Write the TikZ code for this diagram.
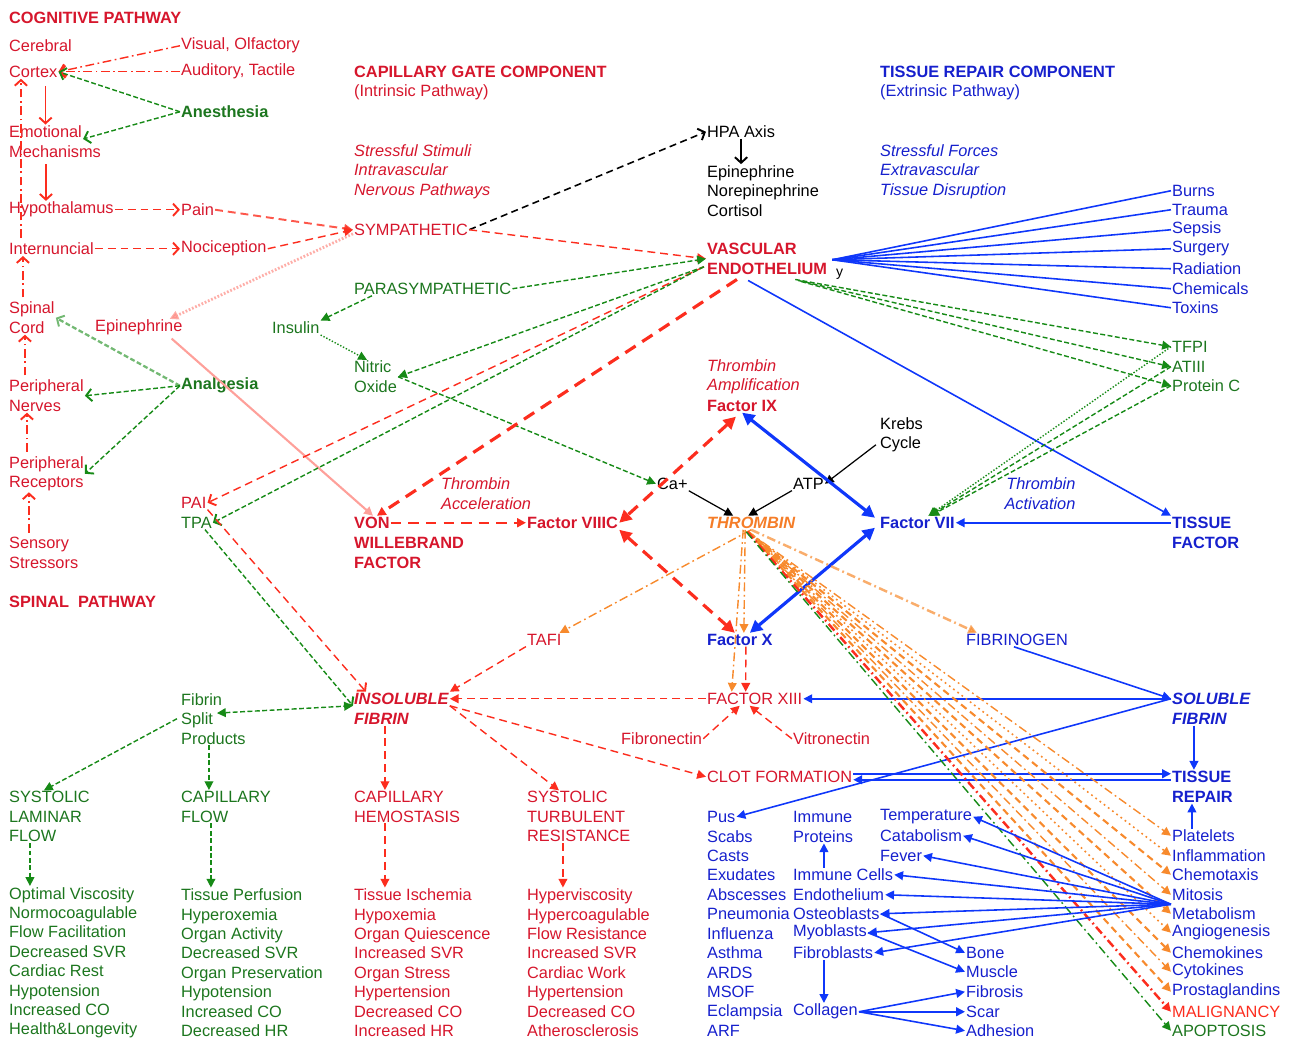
\documentclass[tikz,border=0pt]{standalone}
\usepackage{fontspec}
\setmainfont{Liberation Sans}
\usetikzlibrary{positioning}
\usetikzlibrary{arrows.meta}
\usetikzlibrary{calc}

\definecolor{txtred}{RGB}{214,22,44}
\definecolor{arred}{RGB}{252,45,30}
\definecolor{txtgreen}{RGB}{28,118,30}
\definecolor{argreen}{RGB}{22,138,22}
\definecolor{txtblue}{RGB}{22,32,205}
\definecolor{arblue}{RGB}{15,55,250}
\definecolor{txtorange}{RGB}{245,125,40}
\definecolor{arorange}{RGB}{247,138,45}

\newcommand{\figfont}{\fontsize{9.3}{11.05}\selectfont}

\tikzset{
  lbl/.style={anchor=west, inner sep=0.5pt, align=left, font=\figfont, xshift=-0.6pt, yshift=-1pt},
  rlbl/.style={lbl, text=txtred},
  glbl/.style={lbl, text=txtgreen},
  blbl/.style={lbl, text=txtblue},
  klbl/.style={lbl, text=black},
  olbl/.style={lbl, text=txtorange},
  bdl/.style={font=\figfont\bfseries},
  itl/.style={font=\figfont\itshape},
  bil/.style={font=\figfont\bfseries\itshape},
  barb/.style={-{Straight Barb[length=3.2pt,width=7pt,line width=1.1pt]}},
  tri/.style={-{Triangle[length=5pt,width=5pt]}},
  tritwo/.style={{Triangle[length=5pt,width=5pt]}-{Triangle[length=5pt,width=5pt]}},
  bigtwo/.style={{Triangle[length=7pt,width=7pt]}-{Triangle[length=7pt,width=7pt]}},
  rdsh/.style={draw=arred, line width=0.8pt, dash pattern=on 4.5pt off 2.8pt},
  rdd/.style={draw=arred, line width=0.8pt, dash pattern=on 5pt off 2pt on 1pt off 2pt},
  rsol/.style={draw=arred, line width=0.9pt},
  rthick/.style={draw=arred, line width=1.8pt, dash pattern=on 7pt off 4.5pt},
  gdsh/.style={draw=argreen, line width=0.8pt, dash pattern=on 2.8pt off 1.4pt},
  gdot/.style={draw=argreen, line width=0.8pt, dash pattern=on 0.8pt off 1pt},
  gdd/.style={draw=argreen, line width=0.8pt, dash pattern=on 5pt off 2pt on 1pt off 2pt},
  kdsh/.style={draw=black, line width=0.9pt, dash pattern=on 4pt off 2.5pt},
  kln/.style={draw=black, line width=0.7pt},
  bln/.style={draw=arblue, line width=0.9pt},
  bthick/.style={draw=arblue, line width=1.8pt},
  odd/.style={draw=arorange, line width=0.8pt, dash pattern=on 5pt off 2pt on 1pt off 2pt},
  odash/.style={draw=arorange, line width=1.2pt, dash pattern=on 4pt off 2.5pt},
  odot/.style={draw=arorange, line width=0.9pt, dash pattern=on 1pt off 2pt},
}

\begin{document}
\begin{tikzpicture}[x=0.02cm, y=-0.02cm]
\useasboundingbox (0,0) rectangle (1289,1043);

% nodes, cognitive and spinal side
{
\node[rlbl,bdl] (cogpath) at (9,16) {COGNITIVE PATHWAY};
\node[rlbl] (cerebral) at (9,44) {Cerebral};
\node[rlbl] (cortex) at (9,70) {Cortex};
\node[rlbl] (emot) at (9,130) {Emotional};
\node[rlbl] (mech) at (9,150) {Mechanisms};
\node[rlbl] (hypo) at (9,208) {Hypothalamus};
\node[rlbl] (intern) at (9,247) {Internuncial};
\node[rlbl] (spinal) at (9,316) {Spinal\\Cord};
\node[rlbl] (pnerve) at (9,394) {Peripheral\\Nerves};
\node[rlbl] (precep) at (9,472) {Peripheral\\Receptors};
\node[rlbl] (sensor) at (9,551) {Sensory\\Stressors};
\node[rlbl,bdl] (spinpath) at (9,600) {SPINAL\ \ PATHWAY};

\node[rlbl] (visual) at (181,44) {Visual, Olfactory};
\node[rlbl] (audit) at (181,70) {Auditory, Tactile};
\node[glbl,bdl] (anest) at (181,110) {Anesthesia};
\node[rlbl] (pain) at (181,208) {Pain};
\node[rlbl] (nocic) at (181,247) {Nociception};
\node[rlbl] (epi) at (95,326) {Epinephrine};
\node[glbl,bdl] (analg) at (181,384) {Analgesia};
\node[rlbl] (pai) at (181,501) {PAI};
\node[glbl] (tpa) at (181,521) {TPA};
\node[glbl] (fsp) at (181,717) {Fibrin\\Split\\Products};
\node[glbl] (slf) at (9,815) {SYSTOLIC\\LAMINAR\\FLOW};
\node[glbl] (capf) at (181,805) {CAPILLARY\\FLOW};
\node[glbl] (glist) at (9,961) {Optimal Viscosity\\Normocoagulable\\Flow Facilitation\\Decreased SVR\\Cardiac Rest\\Hypotension\\Increased CO\\Health\&Longevity};
\node[glbl] (plist) at (181,961) {Tissue Perfusion\\Hyperoxemia\\Organ Activity\\Decreased SVR\\Organ Preservation\\Hypotension\\Increased CO\\Decreased HR};
}

% nodes, capillary gate
{
\node[rlbl,bdl] (gatehd) at (354,70) {CAPILLARY GATE COMPONENT};
\node[rlbl] (intrin) at (354,91) {(Intrinsic Pathway)};
\node[rlbl,itl] (stimuli) at (354,170) {Stressful Stimuli\\Intravascular\\Nervous Pathways};
\node[rlbl] (symp) at (354,228) {SYMPATHETIC};
\node[glbl] (para) at (354,287) {PARASYMPATHETIC};
\node[glbl] (insulin) at (272,326) {Insulin};
\node[glbl] (nitric) at (354,375) {Nitric\\Oxide};
\node[rlbl,bdl] (von) at (354,521) {VON};
\node[rlbl,bdl] (vwf) at (354,551) {WILLEBRAND\\FACTOR};
\node[rlbl,itl] (taccel) at (441,492) {Thrombin\\Acceleration};
\node[rlbl,bdl] (f8) at (527,521) {Factor VIIIC};
\node[rlbl] (tafi) at (527,638) {TAFI};
\node[rlbl,bil] (insol) at (354,697) {INSOLUBLE};
\node[rlbl,bil] (insolf) at (354,717) {FIBRIN};
\node[rlbl] (caphem) at (354,805) {CAPILLARY\\HEMOSTASIS};
\node[rlbl] (sysres) at (527,815) {SYSTOLIC\\TURBULENT\\RESISTANCE};
\node[rlbl] (hlist) at (354,961) {Tissue Ischemia\\Hypoxemia\\Organ Quiescence\\Increased SVR\\Organ Stress\\Hypertension\\Decreased CO\\Increased HR};
\node[rlbl] (tlist) at (527,961) {Hyperviscosity\\Hypercoagulable\\Flow Resistance\\Increased SVR\\Cardiac Work\\Hypertension\\Decreased CO\\Atherosclerosis};
}

% nodes, centre
{
\node[klbl] (hpa) at (707,130) {HPA Axis};
\node[klbl] (hormone) at (707,189) {Epinephrine\\Norepinephrine\\Cortisol};
\node[rlbl,bdl] (endo) at (707,257) {VASCULAR\\ENDOTHELIUM};
\node[klbl,font=\fontsize{8}{9}\selectfont] (ystray) at (836,272) {y};
\node[rlbl,itl] (tampl) at (707,375) {Thrombin\\Amplification};
\node[rlbl,bdl] (f9) at (707,404) {Factor IX};
\node[klbl] (ca) at (657,482) {Ca+};
\node[klbl] (atp) at (793,482) {ATP};
\node[klbl] (krebs) at (880,433) {Krebs\\Cycle};
\node[olbl,bil] (thromb) at (707,521) {THROMBIN};
\node[blbl,bdl] (f10) at (707,638) {Factor X};
\node[rlbl] (f13) at (707,697) {FACTOR XIII};
\node[rlbl] (fibnec) at (621,737) {Fibronectin};
\node[rlbl] (vitnec) at (793,737) {Vitronectin};
\node[rlbl] (clot) at (707,775) {CLOT FORMATION};
\node[blbl] (pus) at (707,815) {Pus};
\node[blbl] (dlist) at (707,931.5) {Scabs\\Casts\\Exudates\\Abscesses\\Pneumonia\\Influenza\\Asthma\\ARDS\\MSOF\\Eclampsia\\ARF};
\node[blbl] (iprot) at (793,825) {Immune\\Proteins};
\node[blbl] (icells) at (793,873) {Immune Cells};
\node[blbl] (endoth) at (793,893) {Endothelium};
\node[blbl] (osteo) at (793,912) {Osteoblasts};
\node[blbl] (myo) at (793,931) {Myoblasts};
\node[blbl] (fibrob) at (793,951) {Fibroblasts};
\node[blbl] (collag) at (793,1010) {Collagen};
\node[blbl] (temp) at (880,815) {Temperature};
\node[blbl] (catab) at (880,834) {Catabolism};
\node[blbl] (fever) at (880,854) {Fever};
\node[blbl] (bone) at (966,951) {Bone};
\node[blbl] (muscle) at (966,970) {Muscle};
\node[blbl] (fibros) at (966,990) {Fibrosis};
\node[blbl] (scar) at (966,1010) {Scar};
\node[blbl] (adhes) at (966,1029) {Adhesion};
}

% nodes, tissue repair
{
\node[blbl,bdl] (repairhd) at (880,70) {TISSUE REPAIR COMPONENT};
\node[blbl] (extrin) at (880,91) {(Extrinsic Pathway)};
\node[blbl,itl] (forces) at (880,170) {Stressful Forces\\Extravascular\\Tissue Disruption};
\node[blbl,itl,anchor=center,align=right] (tactiv) at (1041,492) {Thrombin\\Activation};
\node[blbl,bdl] (f7) at (880,521) {Factor VII};
\node[blbl] (fibgen) at (966,638) {FIBRINOGEN};
\node[blbl] (burns) at (1172,189) {Burns};
\node[blbl] (trauma) at (1172,208) {Trauma};
\node[blbl] (sepsis) at (1172,228) {Sepsis};
\node[blbl] (surgery) at (1172,247) {Surgery};
\node[blbl] (radiat) at (1172,267) {Radiation};
\node[blbl] (chemic) at (1172,287) {Chemicals};
\node[blbl] (toxins) at (1172,306) {Toxins};
\node[glbl] (tfpi) at (1172,345) {TFPI};
\node[glbl] (atiii) at (1172,365) {ATIII};
\node[glbl] (protc) at (1172,384) {Protein C};
\node[blbl,bdl] (tfact) at (1172,521) {TISSUE};
\node[blbl,bdl] (tfact2) at (1172,541) {FACTOR};
\node[blbl,bil] (sol) at (1172,697) {SOLUBLE};
\node[blbl,bil] (solf) at (1172,717) {FIBRIN};
\node[blbl,bdl] (trep) at (1172,775) {TISSUE};
\node[blbl,bdl] (trep2) at (1172,795) {REPAIR};
\node[blbl] (plat) at (1172,834) {Platelets};
\node[blbl] (infl) at (1172,854) {Inflammation};
\node[blbl] (chemo) at (1172,873) {Chemotaxis};
\node[blbl] (mitos) at (1172,893) {Mitosis};
\node[blbl] (metab) at (1172,912) {Metabolism};
\node[blbl] (angio) at (1172,931) {Angiogenesis};
\node[blbl] (chemok) at (1172,951) {Chemokines};
\node[blbl] (cyto) at (1172,970) {Cytokines};
\node[blbl] (prosta) at (1172,990) {Prostaglandins};
\node[lbl,text=arred] (malig) at (1172,1010) {MALIGNANCY};
\node[glbl] (apop) at (1172,1029) {APOPTOSIS};
}

% cognitive arrows
\draw[rdd, barb] (visual.west) -- (cortex.east);
\draw[rdd, barb] (audit.west) -- (cortex.east);
\draw[gdsh, barb] (anest.west) -- (cortex.east);
\draw[gdsh, barb] (anest.west) -- (emot.south east);
\draw[rsol, barb, shorten <=4pt] (cortex.south -| emot.north) -- (emot.north);
\draw[rsol, barb, shorten <=3pt] ($(mech.south west)+(38,0)$) -- ($(hypo.north west)+(38,0)$);
\draw[rdsh, barb] (hypo.east) -- (pain.west);
\draw[rdsh, barb] (intern.east) -- (nocic.west);
\draw[rdsh, tri, line width=1.1pt, opacity=.8] (pain.east) -- (symp.west);
\draw[rdsh, tri] (nocic.east) -- (symp.west);

% spinal chain
\draw[rdd, barb, shorten <=2pt] ($(sensor.north west)+(21,0)$) -- ($(precep.south west)+(21,0)$);
\draw[rdd, barb, shorten <=2pt] ($(precep.north west)+(19,0)$) -- ($(pnerve.south west)+(19,0)$);
\draw[rdd, barb, shorten <=2pt] ($(pnerve.north west)+(17,0)$) -- ($(spinal.south west)+(17,0)$);
\draw[rdd, barb, shorten <=2pt] ($(spinal.north west)+(15,0)$) -- ($(intern.south west)+(15,0)$);
\draw[rdd, barb, shorten <=2pt] ($(intern.north west)+(13,0)$) -- ($(cortex.south west)+(13,0)$);
\draw[gdsh, barb, line width=1.3pt, opacity=.6] (analg.west) -- (spinal.east);
\draw[gdsh, barb] (analg.west) -- (pnerve.east);
\draw[gdsh, barb] (analg.west) -- (precep.east);

% sympathetic side
\draw[draw=arred!55, line width=1.6pt, dash pattern=on 1pt off 1pt, opacity=.7, tri] ($(symp.west)+(0,4)$) -- ($(epi.north east)+(-14,0)$);
\draw[draw=arred!45, line width=1.2pt, tri] ($(epi.south east)+(-12,2)$) -- ($(von.north west)+(20,0)$);
\draw[kdsh, barb] (symp.east) -- (hpa.west);
\draw[kln, barb] (hpa.south) -- (hpa.south |- hormone.north);
\draw[rdsh, tri] (symp.east) -- (endo.west);
\draw[gdsh, tri] (para.east) -- (endo.west);
\draw[gdsh, tri] ($(para.south west)+(19,0)$) -- (insulin.north east);
\draw[gdot, tri] (insulin.south east) -- ($(nitric.north west)+(14,0)$);
\draw[gdsh, tri] ($(endo.west)+(-2,8)$) -- (nitric.east);
\draw[gdsh, tri] (nitric.east) -- (ca.west);
\draw[rdsh, barb] ($(endo.west)+(-2,8)$) -- (pai.east);
\draw[gdsh, barb] ($(endo.west)+(-2,8)$) -- (tpa.east);

% cascade
\draw[rthick, tri] ($(endo.south west)+(31,4)$) -- ($(von.north west)+(24,0)$);
\draw[draw=arred, line width=1.3pt, dash pattern=on 6pt off 4pt, tri] (von.east) -- (f8.west);
\draw[rthick, bigtwo] ($(f9.south west)+(30,4)$) -- (f8.east);
\draw[rthick, bigtwo] (f8.south east) -- ($(f10.north)+(-5,0)$);
\draw[kln, tri] (ca.south east) -- ($(thromb.north)+(-18,0)$);
\draw[kln, tri] (atp.south west) -- ($(thromb.north)+(-3,0)$);
\draw[kln, tri] ($(krebs.west)+(-3,10)$) -- (atp.east);
\draw[bln, tri] ($(endo.south)+(-19,5)$) -- (tfact.north west);
\draw[bthick, bigtwo] ($(f7.west)+(-4,-5)$) -- (f9.south);
\draw[bthick, bigtwo] ($(f7.west)+(-4,5)$) -- ($(f10.north)+(10,0)$);
\draw[bln, tri] (tfact.west) -- (f7.east);

% endothelium fans
\foreach \tgt in {burns,trauma,sepsis,surgery,radiat,chemic,toxins}
  \draw[bln] ($(endo.east)+(4,1)$) -- (\tgt.west);
\draw[gdsh, tri] ($(endo.south east)+(-33,4)$) -- (tfpi.west);
\draw[gdsh, tri] ($(endo.south east)+(-30,5)$) -- (atiii.west);
\draw[gdsh, tri] ($(endo.south east)+(-27,6)$) -- (protc.west);
\draw[gdot, tri] (tfpi.west) -- ($(f7.north)+(11,0)$);
\draw[gdsh, tri] (atiii.west) -- ($(f7.north)+(12,0)$);
\draw[gdsh, tri] (protc.west) -- ($(f7.north)+(13,0)$);

% thrombin products
\draw[odd, tri, line width=1.4pt, opacity=.7] (thromb.south) -- ($(fibgen.north west)+(12,0)$);
\draw[odd, tri] (thromb.south) -- ($(tafi.north east)+(-3,0)$);
\draw[odd, tri] ($(thromb.south)+(-6,0)$) -- ($(f10.north)+(4,0)$);
\draw[odd, tri] ($(thromb.south)+(-8,0)$) -- ($(f13.north)+(-23,0)$);
\draw[rdsh, tri] ($(f10.south)+(6,0)$) -- ($(f13.north)+(-9,0)$);
\draw[rdsh, tri] (tafi.south west) -- (insol.north east);
\draw[rdsh, tri] (f13.west) -- (insol.east);
\draw[rdsh, tri] (fibnec.east) -- ($(f13.south)+(-15,0)$);
\draw[rdsh, tri] (vitnec.west) -- ($(f13.south)+(-5,0)$);

% fibrin outcomes
\draw[rdsh, tri] (insol.south east) -- (clot.west);
\draw[rdsh, tri] (insol.south east) -- ($(sysres.north west)+(33,0)$);
\draw[rdsh, tri] ($(insolf.south west)+(32,0)$) -- ($(caphem.north west)+(32,0)$);
\draw[rdsh, tri] ($(caphem.south west)+(32,0)$) -- ($(hlist.north west)+(32,0)$);
\draw[rdsh, tri] ($(sysres.south west)+(37,0)$) -- ($(tlist.north west)+(37,0)$);
\draw[rdsh, barb] (pai.south east) -- ($(insol.north west)+(13,0)$);
\draw[gdsh, barb] ($(tpa.south east)+(-8,0)$) -- (insol.south west);
\draw[gdsh, tritwo] ($(fsp.north west)+(37,21)$) -- (insol.south west);
\draw[gdsh, tri] ($(fsp.west)+(-3,0)$) -- ($(slf.north west)+(36,0)$);
\draw[gdsh, tri] ($(fsp.south west)+(29,0)$) -- ($(capf.north west)+(29,0)$);
\draw[gdsh, tri] ($(slf.south west)+(22,0)$) -- ($(glist.north west)+(22,0)$);
\draw[gdsh, tri] ($(capf.south west)+(31,0)$) -- ($(plist.north west)+(31,0)$);

% soluble fibrin and repair
\draw[bln, tri] ($(fibgen.south west)+(49,0)$) -- (sol.west);
\draw[bln, tri] (sol.west) -- (f13.east);
\draw[bln, tri] (sol.west) -- (pus.east);
\draw[bln, tri] ($(solf.south west)+(23,0)$) -- ($(trep.north west)+(23,0)$);
\draw[bln, tri] ($(clot.east)+(0,-3)$) -- ($(trep.west)+(0,-3)$);
\draw[bln, tri] ($(trep.west)+(0,3)$) -- ($(clot.east)+(0,3)$);
\draw[bln, tri] ($(plat.north west)+(21,0)$) -- ($(trep2.south west)+(21,0)$);

% thrombin fan
\foreach \tgt/\pat in {plat/odd,infl/odot,chemo/odash,mitos/odd,metab/odash,angio/odot,chemok/odash,cyto/odd,prosta/odash}
  \draw[\pat, tri] ($(thromb.south)+(-3,2)$) -- (\tgt.west);
\draw[rdd, line width=1.4pt, tri] ($(thromb.south)+(-4,2)$) -- (malig.west);
\draw[gdd, tri] ($(thromb.south)+(-5,2)$) -- (apop.west);

% metabolism fan
\coordinate (hub) at ($(mitos.west)!0.5!(metab.west)$);
\foreach \tgt in {temp,catab,fever,icells,endoth,osteo,myo,fibrob}
  \draw[bln, tri] (hub) -- (\tgt.east);
\draw[bln, tri] (osteo.east) -- (bone.west);
\draw[bln, tri] (myo.east) -- (muscle.west);
\draw[bln, tri] ($(icells.north west)+(32,0)$) -- ($(iprot.south west)+(32,0)$);
\draw[bln, tri] ($(fibrob.south west)+(32,0)$) -- ($(collag.north west)+(32,0)$);
\foreach \tgt in {fibros,scar,adhes}
  \draw[bln, tri] (collag.east) -- (\tgt.west);

\end{tikzpicture}
\end{document}
